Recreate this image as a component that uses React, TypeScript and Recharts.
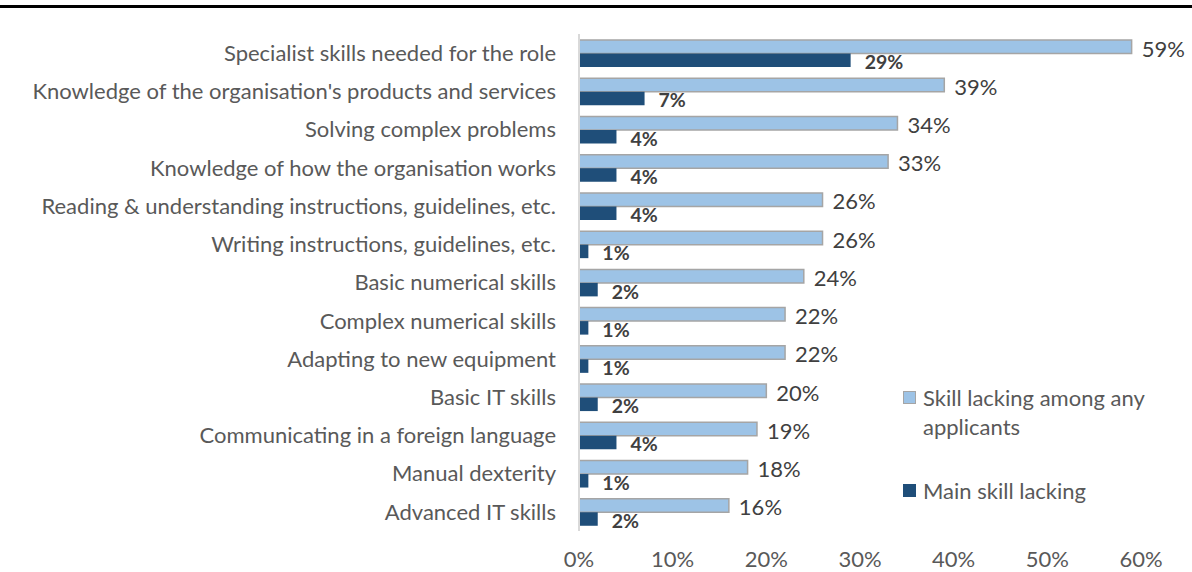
import React from "react";
import {
  BarChart, Bar, XAxis, YAxis, Legend, LabelList,
} from "recharts";

const SKILLS = [
  "Specialist skills needed for the role",
  "Knowledge of the organisation's products and services",
  "Solving complex problems",
  "Knowledge of how the organisation works",
  "Reading & understanding instructions, guidelines, etc.",
  "Writing instructions, guidelines, etc.",
  "Basic numerical skills",
  "Complex numerical skills",
  "Adapting to new equipment",
  "Basic IT skills",
  "Communicating in a foreign language",
  "Manual dexterity",
  "Advanced IT skills",
];
const ANY_LACKING = [59, 39, 34, 33, 26, 26, 24, 22, 22, 20, 19, 18, 16];
const MAIN_LACKING = [29, 7, 4, 4, 4, 1, 2, 1, 1, 2, 4, 1, 2];
const X_TICKS = [0, 10, 20, 30, 40, 50, 60];

const data = SKILLS.map((skill, i) => ({
  skill,
  any: ANY_LACKING[i],
  main: MAIN_LACKING[i],
}));

const LIGHT = "#9DC3E6";
const DARK = "#1F4E79";
const TEXT = "#595959";

function SkillLegend({ payload }: { payload?: any[] }) {
  return (
    <div style={{ width: 250, fontSize: 22, lineHeight: "29px", color: TEXT }}>
      {(payload || []).map((item, i) => (
        <div key={i} style={{ display: "flex", alignItems: "flex-start", marginBottom: i === 0 ? 35 : 0 }}>
          <span
            style={{
              display: "inline-block",
              width: 11,
              height: 11,
              marginTop: 8,
              marginRight: 7,
              flex: "none",
              background: item.color,
              border: i === 0 ? "1px solid #A5A5A5" : "1px solid " + DARK,
            }}
          />
          <span style={{ width: 235 }}>{item.value}</span>
        </div>
      ))}
    </div>
  );
}

export default function App() {
  return (
    <div
      style={{
        position: "absolute", left: 0, top: 0, width: 1192, height: 572,
        background: "#fff", fontFamily: "Lato, sans-serif",
      }}
    >
      <div style={{ position: "absolute", left: 0, top: 5, width: 1192, height: 3, background: "#000" }} />
      <BarChart
        width={1192}
        height={572}
        data={data}
        layout="vertical"
        margin={{ top: 34, right: 51, bottom: 0, left: 0 }}
        barGap={0}
        barSize={13.5}
      >
        <XAxis
          type="number"
          domain={[0, 60]}
          ticks={X_TICKS}
          tickFormatter={(v) => `${v}%`}
          axisLine={false}
          tickLine={false}
          tickSize={0}
          tickMargin={20}
          height={41}
          tick={{ fill: TEXT, fontSize: 22 }}
        />
        <YAxis
          type="category"
          dataKey="skill"
          width={579}
          axisLine={{ stroke: "#D9D9D9", strokeWidth: 2 }}
          tickLine={false}
          tickSize={0}
          tickMargin={23}
          interval={0}
          tick={{ fill: TEXT, fontSize: 22 }}
        />
        <Legend
          layout="vertical"
          align="center"
          verticalAlign="middle"
          itemSorter="dataKey"
          wrapperStyle={{ left: 903, top: 383, width: 250 }}
          content={<SkillLegend />}
        />
        <Bar
          dataKey="any"
          name="Skill lacking among any applicants"
          fill={LIGHT}
          stroke="#A5A5A5"
          strokeWidth={1.5}
          isAnimationActive={false}
        >
          <LabelList
            dataKey="any"
            position="right"
            offset={10}
            dy={2}
            formatter={(v: any) => `${v}%`}
            style={{ fill: "#404040", fontSize: 22 }}
          />
        </Bar>
        <Bar dataKey="main" name="Main skill lacking" fill={DARK} isAnimationActive={false}>
          <LabelList
            dataKey="main"
            position="right"
            offset={14}
            dy={2}
            formatter={(v: any) => `${v}%`}
            style={{ fill: "#404040", fontSize: 19.5, fontWeight: 700 }}
          />
        </Bar>
      </BarChart>
    </div>
  );
}
